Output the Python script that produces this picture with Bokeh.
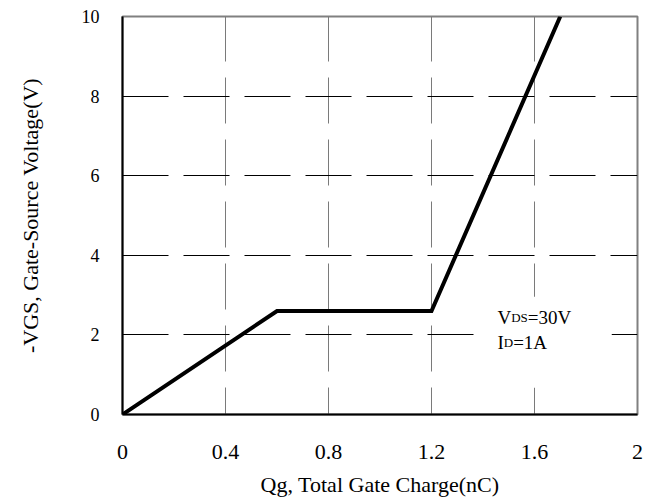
from bokeh.plotting import figure
from bokeh.models import Range1d, FixedTicker, Label, BoxAnnotation
from bokeh.embed import file_html
from bokeh.resources import INLINE

# data
qg = [0.0, 0.6, 1.2, 1.7]          # nC
vgs = [0.0, 2.6, 2.6, 10.0]        # V

x_ticks = [0, 0.4, 0.8, 1.2, 1.6, 2]
x_labels = ["0", "0.4", "0.8", "1.2", "1.6", "2"]
y_ticks = [0, 2, 4, 6, 8, 10]
y_labels = ["0", "2", "4", "6", "8", "10"]

FONT = "Liberation Serif"

p = figure(width=644, height=499, output_backend="svg", toolbar_location=None,
           x_range=Range1d(0, 2), y_range=Range1d(0, 10),
           min_border_left=122, min_border_right=7, min_border_top=16, min_border_bottom=84)
p.background_fill_color = "white"
p.border_fill_color = "white"
p.outline_line_color = "#808080"
p.outline_line_width = 2

# axes
for ax in (p.xaxis[0], p.yaxis[0]):
    ax.axis_line_color = "black"
    ax.axis_line_width = 2
    ax.major_tick_line_color = None
    ax.minor_tick_line_color = None
    ax.major_label_text_font = FONT
    ax.major_label_text_color = "black"
    ax.axis_label_text_font = FONT
    ax.axis_label_text_font_style = "normal"
    ax.axis_label_text_color = "black"
    ax.axis_label_text_font_size = "22px"

p.xaxis.ticker = FixedTicker(ticks=x_ticks)
p.xaxis.major_label_overrides = dict(zip(x_ticks, x_labels))
p.xaxis.major_label_text_font_size = "22px"
p.xaxis.major_label_standoff = 24
p.xaxis.axis_label = "Qg, Total Gate Charge(nC)"
p.xaxis.axis_label_standoff = 10

p.yaxis.ticker = FixedTicker(ticks=y_ticks)
p.yaxis.major_label_overrides = dict(zip(y_ticks, y_labels))
p.yaxis.major_label_text_font_size = "18px"
p.yaxis.major_label_standoff = 17
p.yaxis.axis_label = "-VGS, Gate-Source Voltage(V)"
p.yaxis.axis_label_standoff = 36

# grids (vertical grey, horizontal black, long dashes)
p.xgrid.ticker = FixedTicker(ticks=x_ticks)
p.xgrid.grid_line_color = "#7a7a7a"
p.xgrid.grid_line_width = 1
p.xgrid.grid_line_dash = "46 16"
p.xgrid.grid_line_dash_offset = 19
p.ygrid.ticker = FixedTicker(ticks=y_ticks)
p.ygrid.grid_line_color = "black"
p.ygrid.grid_line_width = 1
p.ygrid.grid_line_dash = "46 15"

# curve
p.line(qg, vgs, line_color="black", line_width=4, line_join="miter")

# white box behind the condition text
p.add_layout(BoxAnnotation(left=1.38, right=1.90, bottom=0.68, top=2.96,
                           fill_color="white", fill_alpha=1.0, line_alpha=0,
                           level="annotation"))

def txt(x, y, s, size, xoff=0):
    p.add_layout(Label(x=x, y=y, text=s, x_offset=xoff,
                       text_font=FONT, text_font_size=f"{size}px",
                       text_color="black", text_baseline="alphabetic", text_align="left"))

# condition text: VDS=30V / ID=1A (small-caps style subscripts)
big, small = 19, 13
txt(1.456, 2.43, "V", big)
txt(1.456, 2.43, "DS", small, xoff=0.722 * big)
txt(1.456, 2.43, "=30V", big, xoff=0.722 * big + (0.722 + 0.556) * small)
txt(1.456, 1.80, "I", big)
txt(1.456, 1.80, "D", small, xoff=0.333 * big)
txt(1.456, 1.80, "=1A", big, xoff=0.333 * big + 0.722 * small)

open("out.html", "w").write(file_html(p, INLINE))
